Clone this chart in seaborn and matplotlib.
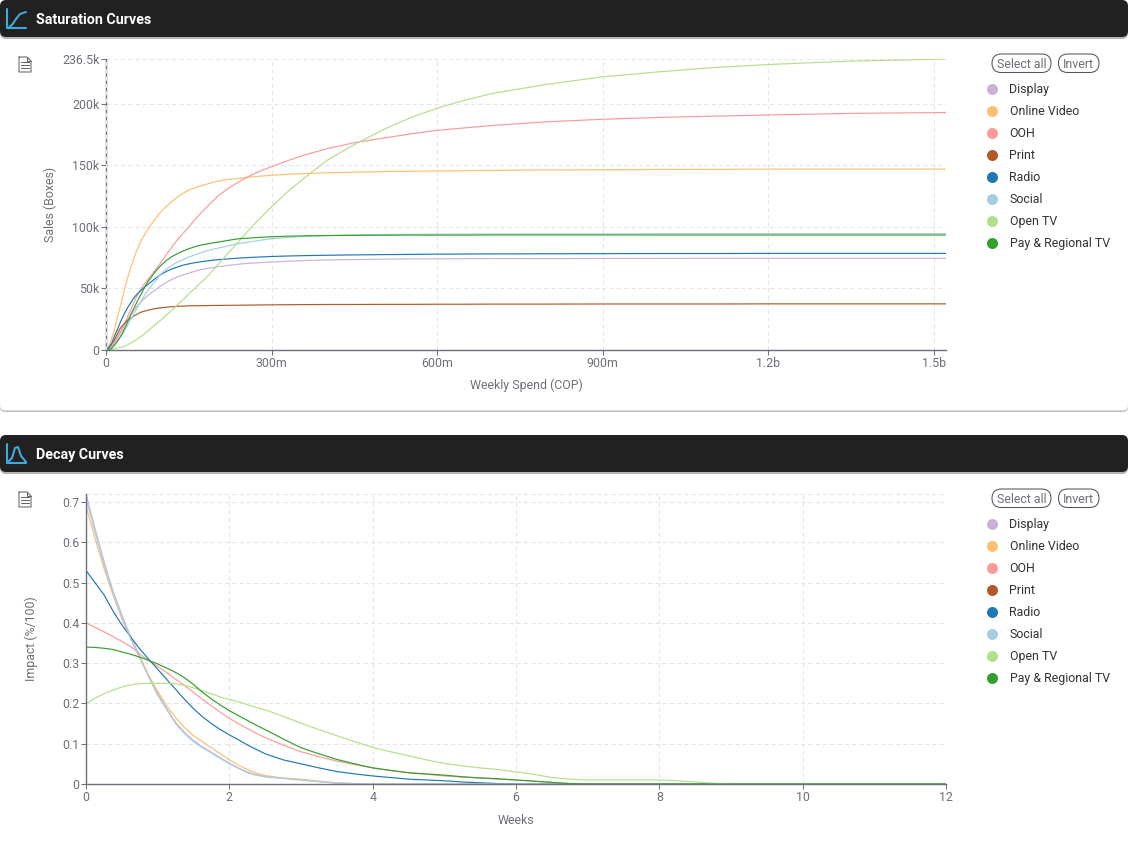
import numpy as np
import pandas as pd
import seaborn as sns
import matplotlib
matplotlib.use("Agg")
import matplotlib.pyplot as plt
from matplotlib.patches import FancyBboxPatch

# channels in legend order
channels = ["Display", "Online Video", "OOH", "Print", "Radio", "Social", "Open TV", "Pay & Regional TV"]
channel_colors = ["#cab2d6", "#fdbf6f", "#fb9a99", "#b15928", "#1f78b4", "#a6cee3", "#b2df8a", "#33a02c"]

# --- saturation: weekly spend in millions, sales in thousands of boxes ---
spend = [0, 5, 10, 15, 20, 25, 30, 35, 40, 45, 50, 55, 60, 65, 70, 75, 80, 90, 100, 110, 120, 130, 140, 150, 165, 180,
         200, 220, 240, 260, 280, 300, 330, 360, 400, 450, 500, 550, 600, 650, 700, 800, 900, 1000, 1100, 1200, 1350, 1522]
sat_display = [0, 1, 3, 5.5, 9, 13, 17, 21, 25, 28.5, 32, 35, 37.5, 39.8, 42, 44, 45.7, 49, 52.3, 55.2, 57.5, 59.5, 61, 62.5, 64.5, 66,
               67.5, 68.7, 69.7, 70.5, 71, 71.5, 72.2, 72.7, 73.2, 73.5, 73.8, 74, 74.1, 74.2, 74.3, 74.3, 74.4, 74.4, 74.5, 74.5, 74.5, 74.5]
sat_online = [0, 3, 9, 16, 25, 34, 43, 52, 60, 67, 74, 80, 85, 90, 94, 97.5, 101, 107, 112.5, 117, 121, 124.5, 127.5, 130, 132.5, 134.5,
              137, 138.5, 139.5, 140.5, 141.3, 142, 142.8, 143.4, 144, 144.5, 145, 145.3, 145.5, 145.7, 146, 146.3, 146.5, 146.7, 146.8, 147, 147, 147]
sat_ooh = [0, 1, 3, 6, 10, 14, 18, 23, 28, 33, 38, 43, 47, 51, 54, 57, 59.5, 65.5, 71.5, 78, 84, 90, 95, 100, 108, 115,
           124, 131, 136.5, 141.5, 145.5, 149, 154, 158.5, 163.5, 168.5, 172, 175.5, 178.5, 180.5, 182.5, 185.5, 187.5, 189, 190, 191, 192.3, 193]
sat_print = [0, 2, 5, 8, 12.5, 17, 20, 22.5, 24.5, 26, 27.5, 28.8, 30, 31, 31.6, 32.2, 32.8, 33.7, 34.3, 34.8, 35.2, 35.5, 35.7, 35.9, 36, 36.1,
             36.2, 36.3, 36.4, 36.5, 36.6, 36.7, 36.8, 36.9, 37, 37, 37.1, 37.1, 37.2, 37.2, 37.3, 37.3, 37.4, 37.4, 37.4, 37.5, 37.5, 37.5]
sat_radio = [0, 1.5, 5, 11, 16, 21.5, 26.5, 31, 35, 38.5, 42, 44.8, 47, 49.2, 51.2, 53, 54.8, 58.3, 61.5, 64, 66, 67.5, 69, 70, 71.3, 72.2,
             73.3, 74, 74.7, 75.2, 75.6, 76, 76.4, 76.7, 77, 77.3, 77.5, 77.7, 77.9, 78, 78.1, 78.2, 78.3, 78.4, 78.4, 78.5, 78.5, 78.5]
sat_social = [0, 0.5, 2, 4, 7, 10, 13, 17, 21, 25, 29, 33, 37, 41, 44.5, 48, 51, 56.5, 62, 66, 69, 71.5, 73.5, 75.5, 78, 80.3,
              82.5, 84.5, 86.5, 87.8, 89.2, 90.4, 91.5, 92.3, 93, 93.5, 93.8, 94, 94.1, 94.2, 94.3, 94.4, 94.4, 94.5, 94.5, 94.5, 94.5, 94.5]
sat_open = [0, 0.2, 0.6, 1, 1.5, 2, 2.5, 3.3, 4.5, 5.7, 7, 8.4, 10, 11.6, 13.3, 15, 17, 21, 24.5, 28.5, 32.5, 37, 41, 45.5, 52, 58,
            68, 78, 88, 98, 107.5, 116.5, 129, 140, 154, 167, 178.5, 188.5, 196.5, 203, 208.5, 216, 222, 226, 229.5, 232, 234.8, 236.5]
sat_pay = [0, 0.3, 1.2, 3.7, 6.5, 10, 14, 18.5, 23.5, 29, 33.5, 38, 42.5, 46.5, 51, 55, 58, 64, 69, 73, 76, 78.5, 80.5, 82.3, 84.5, 86,
           87.5, 89, 90.4, 91, 91.6, 92, 92.5, 92.8, 93, 93.2, 93.3, 93.4, 93.4, 93.4, 93.5, 93.5, 93.5, 93.5, 93.5, 93.5, 93.5, 93.5]

# --- decay: impact per week ---
weeks = [0, 0.125, 0.25, 0.375, 0.5, 0.625, 0.75, 0.875, 1, 1.125, 1.25, 1.375, 1.5, 1.625, 1.75, 1.875, 2, 2.125, 2.25, 2.375, 2.5,
         2.75, 3, 3.25, 3.5, 3.75, 4, 4.25, 4.5, 4.75, 5, 5.25, 5.5, 5.75, 6, 6.25, 6.5, 6.75, 7, 7.5, 8, 8.25, 8.5, 8.75, 9, 10, 11, 12]
dec_display = [0.72, 0.635, 0.553, 0.48, 0.42, 0.365, 0.317, 0.268, 0.225, 0.188, 0.153, 0.128, 0.108, 0.092, 0.079, 0.065, 0.052, 0.04, 0.03, 0.023, 0.018,
               0.014, 0.01, 0.006, 0.002, 0.001, 0] + [0] * 21
dec_online = [0.69, 0.61, 0.535, 0.47, 0.41, 0.36, 0.315, 0.27, 0.23, 0.195, 0.165, 0.14, 0.12, 0.105, 0.09, 0.075, 0.06, 0.047, 0.036, 0.027, 0.021,
              0.015, 0.012, 0.007, 0.003, 0.001, 0] + [0] * 21
dec_ooh = [0.4, 0.389, 0.378, 0.366, 0.354, 0.341, 0.323, 0.306, 0.292, 0.277, 0.26, 0.245, 0.227, 0.21, 0.194, 0.178, 0.163, 0.15, 0.138, 0.126, 0.115,
           0.097, 0.08, 0.068, 0.057, 0.048, 0.04, 0.033, 0.028, 0.024, 0.02, 0.017, 0.015, 0.012, 0.01, 0.007, 0.004, 0.001, 0] + [0] * 9
# no print line can be seen in the decay chart
dec_print = [np.nan] * 48
dec_radio = [0.53, 0.5, 0.47, 0.43, 0.395, 0.365, 0.335, 0.31, 0.285, 0.26, 0.235, 0.21, 0.187, 0.167, 0.15, 0.135, 0.122, 0.11, 0.097, 0.086, 0.075,
             0.06, 0.05, 0.04, 0.031, 0.025, 0.02, 0.016, 0.012, 0.01, 0.008, 0.005, 0.003, 0.001, 0] + [0] * 13
dec_social = [0.71, 0.625, 0.545, 0.475, 0.415, 0.36, 0.313, 0.265, 0.22, 0.185, 0.15, 0.125, 0.105, 0.09, 0.077, 0.063, 0.05, 0.039, 0.028, 0.022, 0.018,
              0.014, 0.01, 0.006, 0.002, 0.001, 0] + [0] * 21
dec_open = [0.2, 0.213, 0.224, 0.233, 0.241, 0.246, 0.249, 0.25, 0.25, 0.25, 0.249, 0.245, 0.239, 0.231, 0.224, 0.216, 0.21, 0.204, 0.197, 0.19, 0.184,
            0.168, 0.151, 0.135, 0.12, 0.105, 0.091, 0.08, 0.07, 0.06, 0.051, 0.045, 0.04, 0.036, 0.03, 0.024, 0.016, 0.012, 0.01, 0.01, 0.01, 0.008, 0.005, 0.002, 0, 0, 0, 0]
dec_pay = [0.34, 0.339, 0.337, 0.334, 0.328, 0.322, 0.315, 0.307, 0.298, 0.288, 0.277, 0.264, 0.247, 0.228, 0.211, 0.196, 0.182, 0.17, 0.158, 0.146, 0.135,
           0.112, 0.09, 0.075, 0.061, 0.05, 0.04, 0.034, 0.028, 0.025, 0.022, 0.018, 0.015, 0.013, 0.01, 0.007, 0.004, 0.001, 0] + [0] * 9

sat_ticks = [0, 300, 600, 900, 1200, 1500]
sat_ticklabels = ["0", "300m", "600m", "900m", "1.2b", "1.5b"]
sat_yticks = [0, 50, 100, 150, 200, 236.5]
sat_yticklabels = ["0", "50k", "100k", "150k", "200k", "236.5k"]
dec_ticks = [0, 2, 4, 6, 8, 10, 12]
dec_yticks = [0, 0.1, 0.2, 0.3, 0.4, 0.5, 0.6, 0.7]
dec_yticklabels = ["0", "0.1", "0.2", "0.3", "0.4", "0.5", "0.6", "0.7"]

W, H = 1128, 846
TICK = "#6e7079"
GRID = "#e0e6f1"
DASH = (0, (4, 3))
PX = 72 / 100  # 1 css px in points at dpi 100
FS = 12.4 * PX

sns.set_theme(style="white")
plt.rcParams["font.family"] = ["Roboto", "DejaVu Sans"]
plt.rcParams["axes.unicode_minus"] = False


def long_table(x, series):
    frames = [pd.DataFrame({"x": x, "y": s, "channel": c}) for c, s in zip(channels, series)]
    return pd.concat(frames, ignore_index=True)


def make_axes(left, top, right, bottom):
    return fig.add_axes([left / W, 1 - bottom / H, (right - left) / W, (bottom - top) / H])


def style_axes(ax, xlabel, ylabel, xlabel_y, ylabel_x):
    sns.despine(ax=ax)
    for side in ["left", "bottom"]:
        ax.spines[side].set_color(TICK)
        ax.spines[side].set_linewidth(1.0)
    ax.grid(True, color=GRID, linestyle=DASH, linewidth=0.75)
    ax.set_axisbelow(True)
    ax.tick_params(colors=TICK, labelsize=FS, length=3.6, width=0.75, pad=1.2, color=TICK,
                   left=True, bottom=True)
    ax.set_xlabel("")
    ax.set_ylabel("")
    cx = (ax.get_position().x0 + ax.get_position().x1) / 2
    cy = (ax.get_position().y0 + ax.get_position().y1) / 2
    fig.text(cx, 1 - xlabel_y / H, xlabel, color=TICK, fontsize=FS, ha="center", va="center")
    fig.text(ylabel_x / W, cy, ylabel, color=TICK, fontsize=FS, ha="center", va="center", rotation=90)


def header(top, title, icon_x, icon_y):
    bg.add_patch(FancyBboxPatch((0, top + 2), W, 37, boxstyle="round,pad=0,rounding_size=6",
                                fc="#b5b5b5", ec="none", zorder=1))
    bg.add_patch(FancyBboxPatch((0, top), W, 37, boxstyle="round,pad=0,rounding_size=6",
                                fc="#212121", ec="none", zorder=2))
    bg.plot([6.5, 6.5, 26], [top + 9, top + 28, top + 28], color="#3fa9dc", lw=1.5, zorder=3)
    bg.plot(icon_x, [top + v for v in icon_y], color="#3fa9dc", lw=1.5, zorder=3)
    bg.text(36, top + 19.5, title, color="white", fontsize=14.2 * PX, fontweight="bold", va="center", zorder=3)


def doc_icon(top):
    xs = [19, 19, 31, 31, 27, 19]
    ys = [top, top + 15, top + 15, top + 4, top, top]
    bg.plot(xs, ys, color="#666666", lw=0.75, zorder=3)
    bg.plot([27, 27, 31], [top, top + 4, top + 4], color="#666666", lw=0.75, zorder=3)
    for dy in [5, 8, 11]:
        bg.plot([21, 29], [top + dy, top + dy], color="#666666", lw=0.75, zorder=3)


def legend_block(top):
    for x0, x1, label in [(992, 1051, "Select all"), (1058.5, 1099, "Invert")]:
        bg.add_patch(FancyBboxPatch((x0, top), x1 - x0, 18.5, boxstyle="round,pad=0,rounding_size=9.2",
                                    fc="white", ec="#555555", lw=0.75, zorder=3))
        bg.text((x0 + x1) / 2, top + 10.4, label, color="#6e7079", fontsize=FS, ha="center", va="center", zorder=4)
    for i, (name, col) in enumerate(zip(channels, channel_colors)):
        y = top + 35 + i * 22
        bg.scatter([992], [y], s=(11 * PX) ** 2, color=col, linewidths=0, zorder=3)
        bg.text(1009.5, y + 0.5, name, color="#333333", fontsize=FS, va="center", zorder=3)


fig = plt.figure(figsize=(W / 100, H / 100), dpi=100, facecolor="white")

# page furniture drawn in pixel coordinates behind the charts
bg = fig.add_axes([0, 0, 1, 1])
bg.set_xlim(0, W)
bg.set_ylim(H, 0)
bg.axis("off")
bg.add_patch(FancyBboxPatch((0, 396), W, 16, boxstyle="round,pad=0,rounding_size=5",
                            fc="#bcbcbd", ec="none", zorder=0))
bg.add_patch(FancyBboxPatch((0, 390), W, 20.5, boxstyle="round,pad=0,rounding_size=5",
                            fc="white", ec="none", zorder=0.5))
header(0, "Saturation Curves", [8, 12, 16, 20, 26], [28, 25, 19, 14, 12])
header(435, "Decay Curves", [8, 12, 15, 18, 21, 26], [27, 23, 13, 12, 21, 27])
doc_icon(57)
doc_icon(492)
legend_block(54)
legend_block(489)

# saturation chart
ax_sat = make_axes(106, 59, 946, 350)
ax_sat.patch.set_alpha(0)
df_sat = long_table(spend, [sat_display, sat_online, sat_ooh, sat_print, sat_radio, sat_social, sat_open, sat_pay])
sns.lineplot(df_sat, x="x", y="y", hue="channel", hue_order=channels, palette=channel_colors,
             estimator=None, errorbar=None, lw=0.85, legend=False, ax=ax_sat)
ax_sat.set_xlim(0, 1522)
ax_sat.set_ylim(0, 236.5)
ax_sat.set_xticks(sat_ticks)
ax_sat.set_xticklabels(sat_ticklabels)
ax_sat.set_yticks(sat_yticks)
ax_sat.set_yticklabels(sat_yticklabels)
style_axes(ax_sat, "Weekly Spend (COP)", "Sales (Boxes)", 385, 50)
# the dashed grid line at 0 shows over the y axis here
ax_sat.axvline(0, color=GRID, linestyle=DASH, linewidth=0.75, zorder=3)

# decay chart
ax_dec = make_axes(86, 494, 946, 784)
ax_dec.patch.set_alpha(0)
df_dec = long_table(weeks, [dec_display, dec_online, dec_ooh, dec_print, dec_radio, dec_social, dec_open, dec_pay])
sns.lineplot(df_dec.dropna(), x="x", y="y", hue="channel", hue_order=channels, palette=channel_colors,
             estimator=None, errorbar=None, lw=0.85, legend=False, ax=ax_dec)
ax_dec.set_xlim(0, 12)
ax_dec.set_ylim(0, 0.72)
ax_dec.set_xticks(dec_ticks)
ax_dec.set_xticklabels([str(t) for t in dec_ticks])
ax_dec.set_yticks(dec_yticks)
ax_dec.set_yticklabels(dec_yticklabels)
style_axes(ax_dec, "Weeks", "Impact (%/100)", 820, 31)
# top dashed line at the axis maximum
ax_dec.axhline(0.72, color=GRID, linestyle=DASH, linewidth=0.75, zorder=0)

fig.savefig("out.png", dpi=100)
